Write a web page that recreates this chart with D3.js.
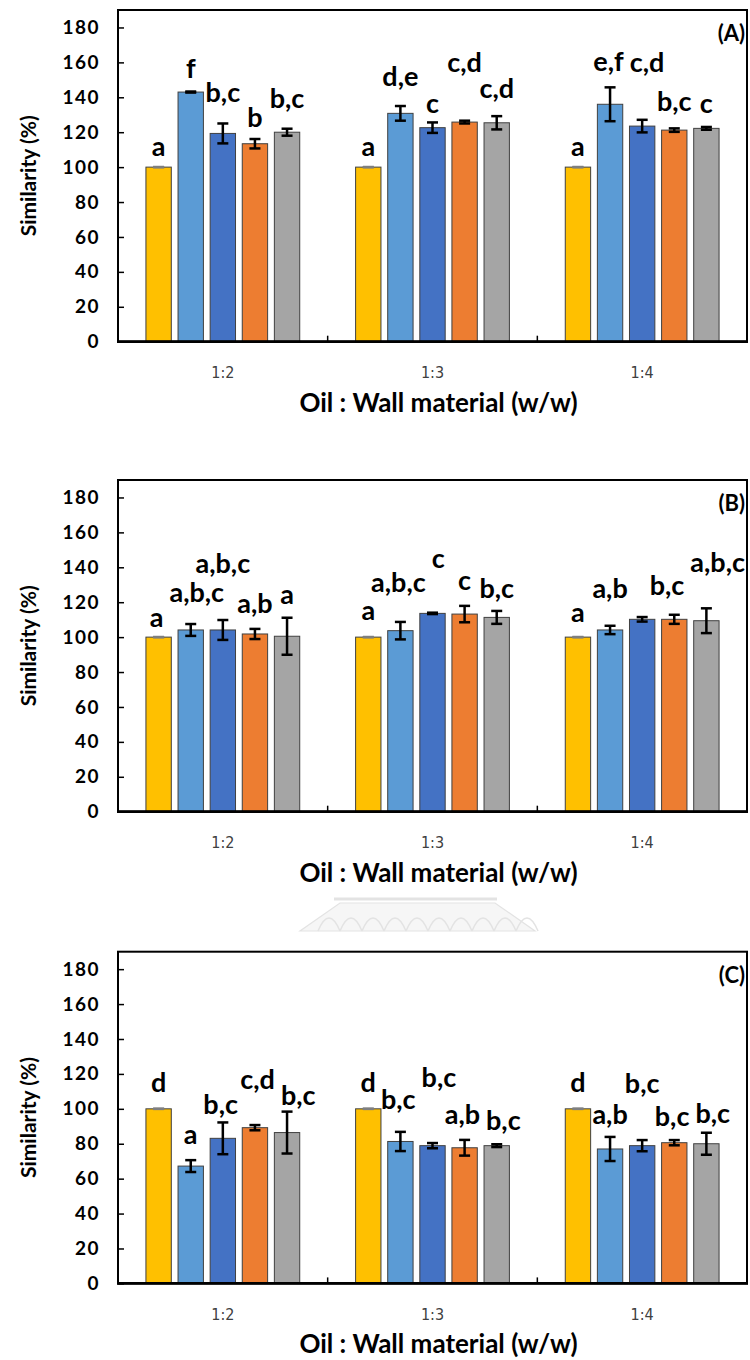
<!DOCTYPE html>
<html>
<head>
<meta charset="utf-8">
<script src="https://cdn.jsdelivr.net/npm/d3@7"></script>
<style>
  body { margin: 0; background: #fff; }
  svg { display: block; }
</style>
</head>
<body>
<div class="holder"></div>
<script>
const width = 750,
  height = 1360;

const categories = ["1:2", "1:3", "1:4"];
const seriesColors = ["#FFC000", "#5B9BD5", "#4472C4", "#ED7D31", "#A5A5A5"];
const yTicks = [0, 20, 40, 60, 80, 100, 120, 140, 160, 180];
const panelNames = ["(A)", "(B)", "(C)"];

// rows = oil : wall ratio, columns = the five samples
const valuesA = [
  [100, 143, 119.3, 113.4, 120],
  [100, 130.8, 122.6, 125.8, 125.4],
  [100, 136, 123.5, 121.2, 122.2],
];
const errorsA = [
  [0, 0.3, 5.7, 2.7, 2],
  [0, 4.2, 3, 0.8, 3.8],
  [0, 9.7, 3.6, 1, 0.8],
];
const lettersA = [
  ["a", "f", "b,c", "b", "b,c"],
  ["a", "d,e", "c", "c,d", "c,d"],
  ["a", "e,f", "c,d", "b,c", "c"],
];
// where each letter sits, in % units (baseline)
const levelsA = [
  [106.3, 150.9, 137.5, 123.2, 134],
  [106.3, 146.5, 131.2, 154.5, 139.4],
  [106.3, 155, 154.5, 132.2, 131.2],
];

const valuesB = [
  [100, 104.1, 104.1, 101.8, 100.5],
  [100, 103.7, 113.6, 113.2, 111.3],
  [100, 104.1, 110.2, 110.2, 109.4],
];
const errorsB = [
  [0, 3.4, 5.7, 2.9, 10.6],
  [0, 5, 0.4, 4.7, 3.7],
  [0, 2.4, 1.3, 2.6, 7.1],
];
const lettersB = [
  ["a", "a,b,c", "a,b,c", "a,b", "a"],
  ["a", "a,b,c", "c", "c", "b,c"],
  ["a", "a,b", "", "b,c", "a,b,c"],
];
const levelsB = [
  [105.6, 120.3, 136.5, 113.6, 119],
  [109.8, 126, 139.4, 127, 122.2],
  [108.8, 122.2, 0, 124.1, 137.5],
];

const valuesC = [
  [100, 67.2, 83.1, 89.2, 86.4],
  [100, 81.3, 78.9, 77.7, 78.9],
  [100, 77, 78.9, 80.6, 80],
];
const errorsC = [
  [0, 3.4, 9.1, 1.5, 12],
  [0, 5.5, 1.5, 4.5, 0.8],
  [0, 6.9, 3.2, 1.5, 6.3],
];
const lettersC = [
  ["d", "a", "b,c", "c,d", "b,c"],
  ["d", "b,c", "b,c", "a,b", "b,c"],
  ["d", "a,b", "b,c", "b,c", "b,c"],
];
const levelsC = [
  [109.4, 79.8, 97, 111.3, 102.3],
  [109.4, 99.8, 112.3, 91.5, 87.7],
  [109.4, 91.5, 108.8, 90.2, 92.1],
];

const panels = [
  { values: valuesA, errors: errorsA, letters: lettersA, levels: levelsA },
  { values: valuesB, errors: errorsB, letters: lettersB, levels: levelsB },
  { values: valuesC, errors: errorsC, letters: lettersC, levels: levelsC },
];

const left = 118,
  right = 747,
  plotHeight = 331.7,
  panelTops = [10, 480, 951.7];

const boldFont = "Lato, 'Open Sans', sans-serif";

const svg = d3
  .select(".holder")
  .append("svg")
  .attr("width", width)
  .attr("height", height);

svg.append("rect").attr("width", width).attr("height", height).attr("fill", "#fff");

const x0 = d3.scaleBand().domain(categories).range([left, right]);
const x1 = d3
  .scaleBand()
  .domain(d3.range(seriesColors.length))
  .range([0, x0.bandwidth()])
  .paddingInner(0.21)
  .paddingOuter(0.87);

// faint watermark between panel B and C
const wm = svg.append("g").attr("fill", "none").attr("stroke", "#e3e3e3");
wm.append("line").attr("x1", 334).attr("x2", 497).attr("y1", 899).attr("y2", 899).attr("stroke-width", 3);
wm.append("path")
  .attr("d", "M340,903 L495,903 L535,931 L300,931 Z")
  .attr("fill", "#f6f6f6")
  .attr("stroke-width", 1.2);
d3.range(10).forEach((i) => {
  const cx = 318 + i * 22;
  wm.append("path")
    .attr("d", `M${cx},931 Q${cx + 11},905 ${cx + 22},931`)
    .attr("stroke-width", 1.5);
});

panels.forEach((p, pi) => {
  const top = panelTops[pi],
    bottom = top + plotHeight;

  const y = d3.scaleLinear().domain([0, 190]).range([bottom, top]);

  const g = svg.append("g").attr("class", "panel");

  // bars
  const groups = g
    .selectAll(".group")
    .data(p.values)
    .enter()
    .append("g")
    .attr("transform", (d, i) => "translate(" + x0(categories[i]) + ",0)");

  groups
    .selectAll("rect")
    .data((d) => d)
    .enter()
    .append("rect")
    .attr("x", (d, j) => x1(j))
    .attr("width", x1.bandwidth())
    .attr("y", (d) => y(d))
    .attr("height", (d) => y(0) - y(d))
    .style("fill", (d, j) => seriesColors[j])
    .style("stroke", "#404040")
    .style("stroke-width", 1);

  // error bars
  groups.each(function (row, i) {
    const eg = d3.select(this);
    row.forEach((v, j) => {
      const e = p.errors[i][j];
      const cx = x1(j) + x1.bandwidth() / 2;
      const col = e === 0 ? "#7f7f7f" : "#000";
      const cap = 11;
      eg.append("line")
        .attr("x1", cx).attr("x2", cx)
        .attr("y1", y(v - e)).attr("y2", y(v + e))
        .attr("stroke", col).attr("stroke-width", 2.5);
      [v - e, v + e].forEach((t) => {
        eg.append("line")
          .attr("x1", cx - cap / 2).attr("x2", cx + cap / 2)
          .attr("y1", y(t)).attr("y2", y(t))
          .attr("stroke", col).attr("stroke-width", 2.5);
      });
    });
  });

  // significance letters
  groups.each(function (row, i) {
    const labels = d3
      .select(this)
      .selectAll(".letter")
      .data(p.letters[i])
      .enter()
      .append("text")
      .attr("class", "letter")
      .attr("x", (d, j) => x1(j) + x1.bandwidth() / 2)
      .attr("y", (d, j) => y(p.levels[i][j]))
      .attr("text-anchor", "middle")
      .style("font-family", boldFont)
      .style("font-weight", "bold")
      .style("font-size", "27px")
      .text((d) => d);

    // nudge neighbours apart when they sit at about the same height
    const maxRight = right - x0(categories[i]) - 2;
    const boxes = [];
    labels.each(function (d, j) {
      if (!d) return;
      boxes.push({
        node: this,
        x: x1(j) + x1.bandwidth() / 2,
        y: y(p.levels[i][j]),
        w: this.getComputedTextLength(),
      });
    });
    for (let k = 1; k < boxes.length; k++) {
      const a = boxes[k - 1],
        b = boxes[k];
      if (Math.abs(a.y - b.y) >= 26) continue;
      let need = a.x + a.w / 2 + 6 - (b.x - b.w / 2);
      if (need <= 0) continue;
      let moveB = Math.min(need * 0.75, Math.max(0, maxRight - (b.x + b.w / 2)));
      b.x += moveB;
      a.x -= need - moveB;
    }
    boxes.forEach((b) => d3.select(b.node).attr("x", b.x));
  });

  // frame
  g.append("rect")
    .attr("x", left)
    .attr("y", top)
    .attr("width", right - left)
    .attr("height", plotHeight)
    .attr("fill", "none")
    .attr("stroke", "#000")
    .attr("stroke-width", 2);
  g.append("line")
    .attr("x1", left - 1).attr("x2", right + 1)
    .attr("y1", bottom).attr("y2", bottom)
    .attr("stroke", "#000").attr("stroke-width", 2.8);

  // y axis
  const yAxis = d3
    .axisLeft(y)
    .tickValues(yTicks)
    .tickSizeInner(-6)
    .tickSizeOuter(0)
    .tickPadding(18);

  const ya = g
    .append("g")
    .attr("transform", "translate(" + left + ",0)")
    .call(yAxis);
  ya.select(".domain").remove();
  ya.selectAll(".tick line").attr("stroke", "#000").attr("stroke-width", 1.5);
  ya.selectAll(".tick text")
    .style("font-family", boldFont)
    .style("font-weight", "bold")
    .style("font-size", "19px")
    .style("letter-spacing", "1.5px")
    .attr("fill", "#000");

  // x ticks between categories
  g.selectAll(".xtick")
    .data(categories.slice(1))
    .enter()
    .append("line")
    .attr("x1", (d) => x0(d))
    .attr("x2", (d) => x0(d))
    .attr("y1", bottom)
    .attr("y2", bottom - 6)
    .attr("stroke", "#000")
    .attr("stroke-width", 1.5);

  g.selectAll(".xlabel")
    .data(categories)
    .enter()
    .append("text")
    .attr("x", (d) => x0(d) + x0.bandwidth() / 2)
    .attr("y", bottom + 31)
    .attr("dy", "0.35em")
    .attr("text-anchor", "middle")
    .style("font-family", "'Liberation Sans Narrow', 'DejaVu Sans Condensed', sans-serif")
    .style("font-size", "16px")
    .attr("fill", "#404040")
    .text((d) => d);

  g.append("text")
    .attr("x", (left + right) / 2 + 6)
    .attr("y", bottom + 70)
    .attr("text-anchor", "middle")
    .style("font-family", boldFont)
    .style("font-weight", "bold")
    .style("font-size", "26px")
    .text("Oil : Wall material (w/w)");

  g.append("text")
    .attr("transform", "translate(36," + (top + plotHeight / 2) + ") rotate(-90)")
    .attr("text-anchor", "middle")
    .style("font-family", boldFont)
    .style("font-weight", "bold")
    .style("font-size", "21px")
    .text("Similarity (%)");

  g.append("text")
    .attr("x", right - 2)
    .attr("y", top + 31)
    .attr("text-anchor", "end")
    .style("font-family", boldFont)
    .style("font-weight", "bold")
    .style("font-size", "22px")
    .text(panelNames[pi]);
});
</script>
</body>
</html>
